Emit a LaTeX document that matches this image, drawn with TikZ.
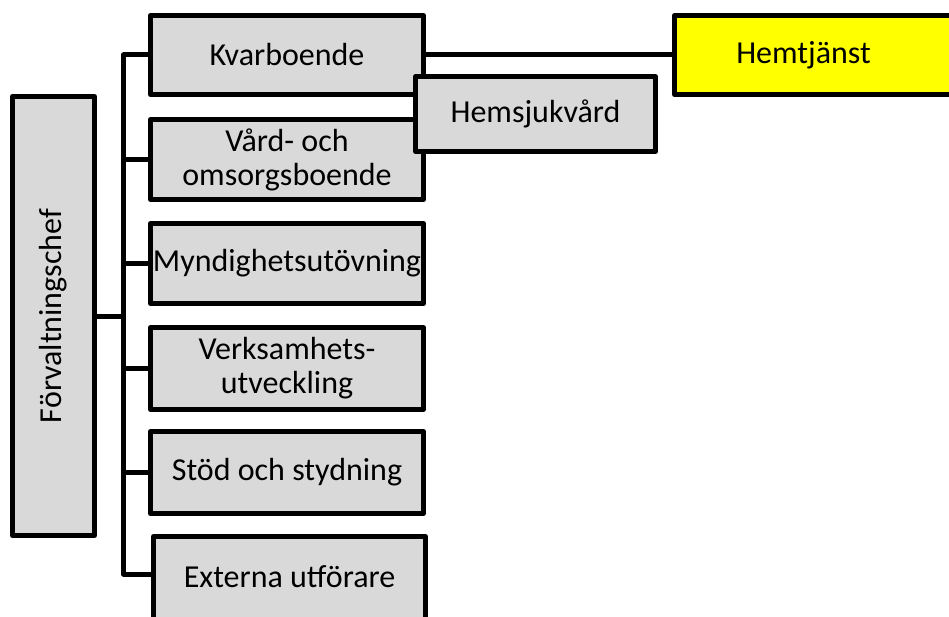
\documentclass[tikz,border=0pt]{standalone}
\usepackage{fontspec}
\setmainfont{Carlito}
\usetikzlibrary{calc,backgrounds}
\definecolor{boxgray}{HTML}{D9D9D9}
\definecolor{hyellow}{HTML}{FFFF00}
\begin{document}
\begin{tikzpicture}[x=1pt,y=-1pt,
  box/.style={draw=black, line width=5pt, fill=boxgray, rectangle, inner sep=0pt,
    align=center, font=\fontsize{32}{34}\selectfont, line join=round},
  conn/.style={draw=black, line width=5pt, line join=round}]
\clip (0,0) rectangle (949,617);
\useasboundingbox (0,0) rectangle (949,617);
\coordinate (trunk) at (123.5,300);
% boxes
\node[box, minimum width=273pt, minimum height=79pt] (kvar) at (287,55) {Kvarboende};
\node[box, minimum width=273pt, minimum height=80pt] (vard) at (287,159.5) {Vård- och\\omsorgsboende};
\node[box, minimum width=273pt, minimum height=80pt] (mynd) at (287,263.5) {Myndighetsutövning};
\node[box, minimum width=273pt, minimum height=81.5pt] (verk) at (287,368.5) {Verksamhets-\\utveckling};
\node[box, minimum width=273pt, minimum height=82pt] (stod) at (287,472.5) {Stöd och stydning};
\node[box, minimum width=272pt, minimum height=90pt, text height=12pt, text depth=1pt] (ext) at (289.5,581.5) {Externa utförare};
\node[box, minimum width=439pt, minimum height=82pt, rotate=90] (forv) at (53.5,316) {Förvaltningschef};
\node[box, fill=hyellow, minimum width=290pt, minimum height=79pt] (hemtj) at (819.5,55) {Hemtjänst\hspace*{32pt}};
\node[box, minimum width=240pt, minimum height=74.5pt] (hsj) at (535.5,114) {Hemsjukvård};
\coordinate (extb) at ($(ext.north west)+(0,40)$);
% connectors, behind the boxes
\begin{pgfonlayer}{background}
\fill[white] (0,0) rectangle (949,617);
\draw[conn] (kvar.west) -| (trunk) |- (extb);
\draw[conn] (vard.west) -- (vard.west -| trunk);
\draw[conn] (mynd.west) -- (mynd.west -| trunk);
\draw[conn] (verk.west) -- (verk.west -| trunk);
\draw[conn] (stod.west) -- (stod.west -| trunk);
\draw[conn] (forv.south) -- (forv.south -| trunk);
\draw[conn] (kvar.east) -- (hemtj.west);
\end{pgfonlayer}
\end{tikzpicture}
\end{document}
